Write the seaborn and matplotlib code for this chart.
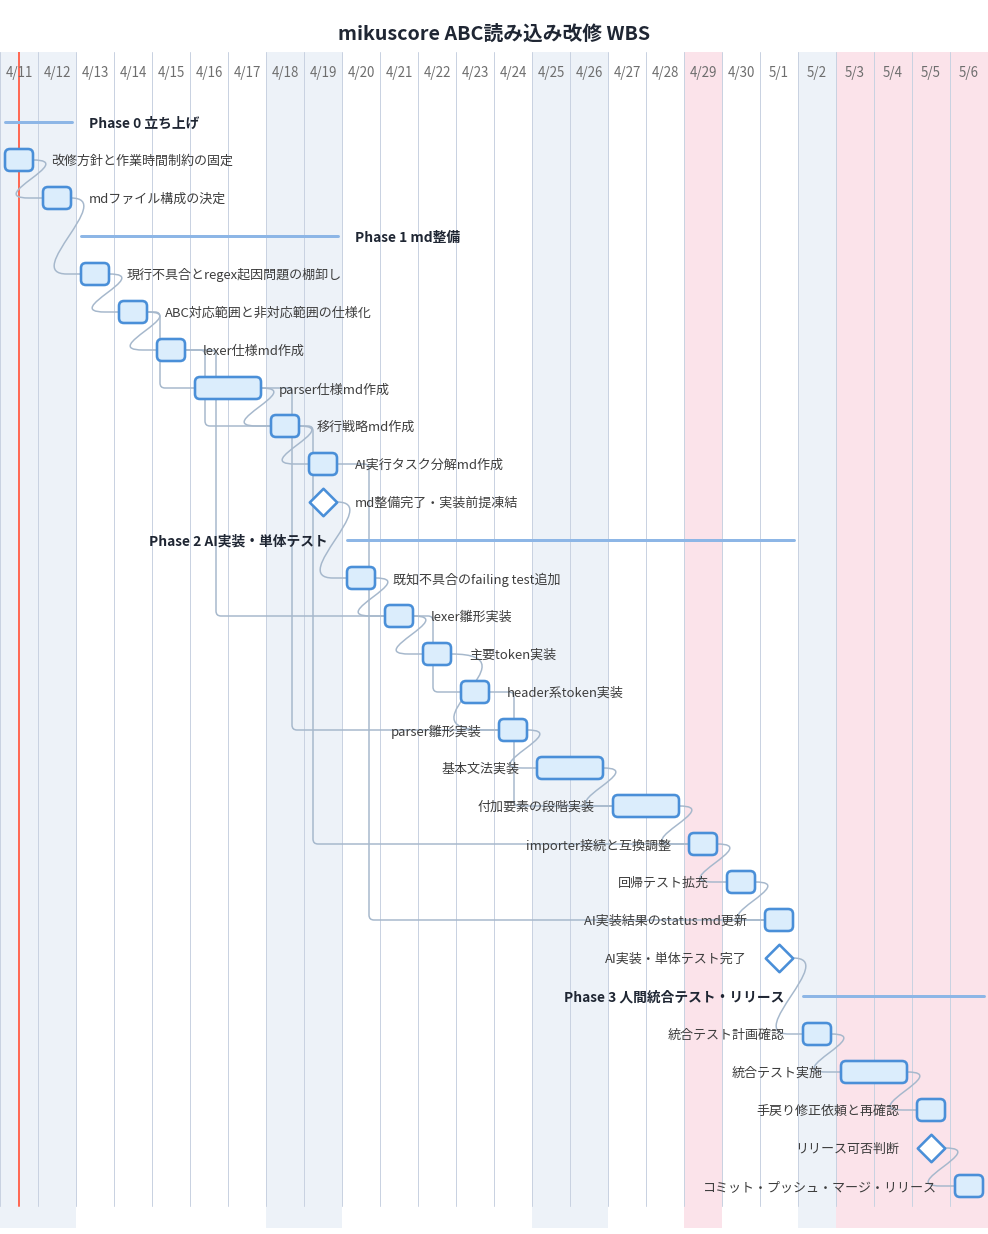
import numpy as np
import pandas as pd
import matplotlib
matplotlib.use("Agg")
import matplotlib.pyplot as plt
import seaborn as sns
from matplotlib.patches import FancyBboxPatch, PathPatch
from matplotlib.path import Path

# ---------------- data ----------------
title = "mikuscore ABC読み込み改修 WBS"
chart_start = "2026-04-11"
chart_end = "2026-05-06"
today = "2026-04-11"
holidays = ["2026-04-29", "2026-05-03", "2026-05-04", "2026-05-05", "2026-05-06"]

row_kind = ["section", "task", "task",
            "section", "task", "task", "task", "task", "task", "task", "milestone",
            "section", "task", "task", "task", "task", "task", "task", "task", "task",
            "task", "task", "milestone",
            "section", "task", "task", "task", "milestone", "task"]
row_label = ["Phase 0 立ち上げ", "改修方針と作業時間制約の固定", "mdファイル構成の決定",
             "Phase 1 md整備", "現行不具合とregex起因問題の棚卸し", "ABC対応範囲と非対応範囲の仕様化",
             "lexer仕様md作成", "parser仕様md作成", "移行戦略md作成", "AI実行タスク分解md作成",
             "md整備完了・実装前提凍結",
             "Phase 2 AI実装・単体テスト", "既知不具合のfailing test追加", "lexer雛形実装",
             "主要token実装", "header系token実装", "parser雛形実装", "基本文法実装",
             "付加要素の段階実装", "importer接続と互換調整", "回帰テスト拡充",
             "AI実装結果のstatus md更新", "AI実装・単体テスト完了",
             "Phase 3 人間統合テスト・リリース", "統合テスト計画確認", "統合テスト実施",
             "手戻り修正依頼と再確認", "リリース可否判断", "コミット・プッシュ・マージ・リリース"]
row_start = [None, "2026-04-11", "2026-04-12",
             None, "2026-04-13", "2026-04-14", "2026-04-15", "2026-04-16", "2026-04-18",
             "2026-04-19", "2026-04-19",
             None, "2026-04-20", "2026-04-21", "2026-04-22", "2026-04-23", "2026-04-24",
             "2026-04-25", "2026-04-27", "2026-04-29", "2026-04-30", "2026-05-01", "2026-05-01",
             None, "2026-05-02", "2026-05-03", "2026-05-05", "2026-05-05", "2026-05-06"]
row_days = [0, 1, 1,
            0, 1, 1, 1, 2, 1, 1, 1,
            0, 1, 1, 1, 1, 1, 2, 2, 1, 1, 1, 1,
            0, 1, 2, 1, 1, 1]

dep_src = [1, 2, 4, 5, 5, 6, 6, 7, 7, 8, 8, 9, 9, 10, 12, 13, 13, 14, 15, 16,
           17, 18, 19, 20, 21, 22, 24, 25, 26, 27]
dep_dst = [2, 4, 5, 6, 7, 8, 13, 8, 16, 9, 19, 10, 21, 12, 13, 14, 15, 16, 18, 17,
           18, 19, 20, 21, 22, 24, 25, 26, 27, 28]

# ---------------- layout / style (not data) ----------------
# route per dependency: 0 -> S-curve, otherwise elbow with this horizontal offset (px)
dep_route_px = [0, 0, 0, 0, 13, 20, 31, 0, 31, 0, 14, 0, 32, 0, 0, 0, 20, 0, 25, 0,
                0, 0, 0, 0, 0, 0, 0, 0, 0, 0]

W_PX, H_PX = 988, 1234
DAY_PX = 38.0
PX = 1.0 / DAY_PX
ROW0_PX = 122
TOP_PX, BOT_PX = 52, 1228
GRID_BOT_PX = 1206
TXT_DY = 1.5 * PX  # small downward nudge for text centring

C_WEEKEND = "#edf2f8"
C_HOLIDAY = "#fbe3ea"
C_GRID = "#c9d2e1"
C_BAR_FILL = "#dbedfc"
C_BAR_EDGE = "#4a8fd8"
C_SECTION = "#8db6e6"
C_DEP = "#a6b8cc"
C_TODAY = "#ff6a55"
C_TEXT = "#3d3d3d"
C_HEAD = "#1f2633"
C_DATE = "#6e6e6e"
PT = 72.0 / 100.0  # points per pixel

sns.set_theme(style="white")
FONT = ["Noto Sans CJK JP", "DejaVu Sans"]
plt.rcParams["font.family"] = FONT

fig = plt.figure(figsize=(W_PX / 100, H_PX / 100), dpi=100)
fig.patch.set_facecolor("white")
ax = fig.add_axes([0, 1 - BOT_PX / H_PX, 1, (BOT_PX - TOP_PX) / H_PX])
ax.set_axis_off()

t0 = pd.Timestamp(chart_start)
days = pd.date_range(chart_start, chart_end, freq="D")
n_days = len(days)
y_top = (TOP_PX - ROW0_PX) / DAY_PX
y_bot = (BOT_PX - ROW0_PX) / DAY_PX
y_grid_bot = (GRID_BOT_PX - ROW0_PX) / DAY_PX
ax.set_xlim(0, n_days)
ax.set_ylim(y_bot, y_top)

hol = set(pd.to_datetime(holidays))
# column shading, grid and header
for i, d in enumerate(days):
    if d in hol:
        ax.axvspan(i, i + 1, color=C_HOLIDAY, lw=0, zorder=0)
    elif d.dayofweek >= 5:
        ax.axvspan(i, i + 1, color=C_WEEKEND, lw=0, zorder=0)
    ax.plot([i, i], [y_top, y_grid_bot], color=C_GRID, lw=1 * PT, zorder=1)
    ax.text(i + 0.5, (71 - ROW0_PX) / DAY_PX + TXT_DY, f"{d.month}/{d.day}", ha="center",
            va="center", fontsize=9.6, color=C_DATE, zorder=6)

# today marker
tx = (pd.Timestamp(today) - t0).days + 18.5 * PX
ax.plot([tx, tx], [y_top, y_grid_bot], color=C_TODAY, lw=2 * PT, zorder=2)

# resolve rows
n_rows = len(row_kind)
start_d = np.full(n_rows, np.nan)
end_d = np.full(n_rows, np.nan)
for r in range(n_rows):
    if row_start[r] is not None:
        start_d[r] = (pd.Timestamp(row_start[r]) - t0).days
        end_d[r] = start_d[r] + row_days[r]
# section spans
sec_rows = [r for r in range(n_rows) if row_kind[r] == "section"]
for k, r in enumerate(sec_rows):
    nxt = sec_rows[k + 1] if k + 1 < len(sec_rows) else n_rows
    start_d[r] = np.nanmin(start_d[r + 1:nxt])
    end_d[r] = np.nanmax(end_d[r + 1:nxt])

mid = n_days / 2.0

# dependency connectors
for s, t, route in zip(dep_src, dep_dst, dep_route_px):
    x1 = end_d[s] - 5 * PX
    x2 = start_d[t] + 5 * PX
    if x2 < x1:
        continue
    y1, y2 = float(s), float(t)
    if route == 0:
        g = (x2 - x1) / PX
        rr = (46 + 1.2 * (g - 10)) * PX
        L = 14 * PX
        verts = [(x1, y1), (x1 + rr, y1), (x2 - L - rr, y2), (x2 - L, y2), (x2, y2)]
        codes = [Path.MOVETO, Path.CURVE4, Path.CURVE4, Path.CURVE4, Path.LINETO]
    else:
        xv = x1 + route * PX
        rad = 5 * PX
        verts = [(x1, y1), (xv - rad, y1), (xv, y1), (xv, y1 + rad),
                 (xv, y2 - rad), (xv, y2), (xv + rad, y2), (x2, y2)]
        codes = [Path.MOVETO, Path.LINETO, Path.CURVE3, Path.CURVE3,
                 Path.LINETO, Path.CURVE3, Path.CURVE3, Path.LINETO]
    ax.add_patch(PathPatch(Path(verts, codes), fc="none", ec=C_DEP, lw=1.5 * PT,
                           zorder=3, capstyle="round"))

# section lines (seaborn)
sec_df = pd.DataFrame({
    "x": np.concatenate([[start_d[r] + 5 * PX, end_d[r] - 4 * PX] for r in sec_rows]),
    "y": np.repeat([float(r) for r in sec_rows], 2),
    "sec": np.repeat(sec_rows, 2),
})
sns.lineplot(data=sec_df, x="x", y="y", units="sec", estimator=None, color=C_SECTION,
             lw=3 * PT, ax=ax, legend=False, zorder=3, sort=False)
ax.set_axis_off()
ax.set_xlim(0, n_days)
ax.set_ylim(y_bot, y_top)

for r in sec_rows:
    x_a = start_d[r] + 5 * PX
    x_b = end_d[r] - 4 * PX
    if (x_a + x_b) / 2 < mid:
        ax.text(x_b + 17 * PX, r + TXT_DY, row_label[r], ha="left", va="center",
                fontsize=9.9, fontweight="bold", color=C_HEAD, zorder=6)
    else:
        ax.text(x_a - 19 * PX, r + TXT_DY, row_label[r], ha="right", va="center",
                fontsize=9.9, fontweight="bold", color=C_HEAD, zorder=6)

# task bars
for r in range(n_rows):
    if row_kind[r] != "task":
        continue
    x = start_d[r] + 5 * PX
    w = row_days[r] - 10 * PX
    ax.add_patch(FancyBboxPatch((x, r - 11 * PX), w, 22 * PX,
                                boxstyle=f"round,pad=0,rounding_size={5 * PX}",
                                fc=C_BAR_FILL, ec=C_BAR_EDGE, lw=2.6 * PT, zorder=4))

# milestones (seaborn)
ms_rows = [r for r in range(n_rows) if row_kind[r] == "milestone"]
ms_df = pd.DataFrame({"x": [start_d[r] + 0.5 for r in ms_rows],
                      "y": [float(r) for r in ms_rows]})
sns.scatterplot(data=ms_df, x="x", y="y", marker="D", s=195, color="white",
                edgecolor=C_BAR_EDGE, linewidth=2.6 * PT, ax=ax, zorder=5, legend=False)
ax.set_axis_off()
ax.set_xlim(0, n_days)
ax.set_ylim(y_bot, y_top)

# task / milestone labels
for r in range(n_rows):
    if row_kind[r] == "section":
        continue
    xs = start_d[r] + 5 * PX
    xe = end_d[r] - 5 * PX
    if xs < mid:
        ax.text(xe + 18 * PX, r + TXT_DY, row_label[r], ha="left", va="center",
                fontsize=9.4, color=C_TEXT, zorder=6)
    else:
        ax.text(xs - 18 * PX, r + TXT_DY, row_label[r], ha="right", va="center",
                fontsize=9.4, color=C_TEXT, zorder=6)

fig.text(0.5, 1 - 34 / H_PX, title, ha="center", va="center", fontsize=14.2,
         fontweight="bold", color=C_HEAD)

fig.savefig("out.png", dpi=100, facecolor="white")
